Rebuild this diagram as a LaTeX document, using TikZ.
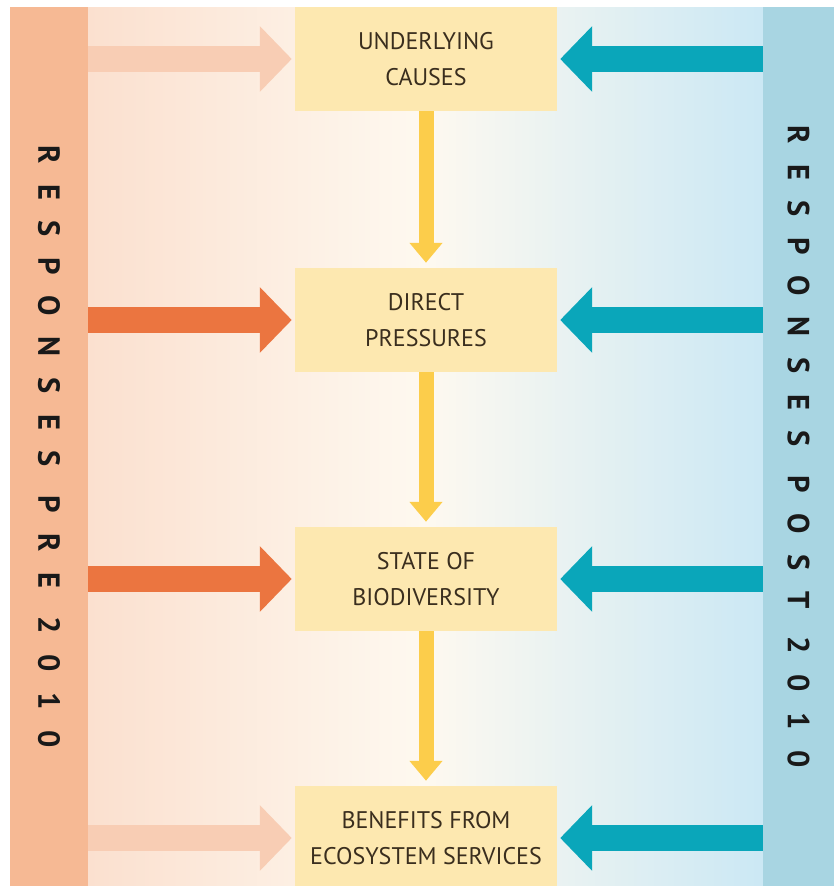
\documentclass[tikz,border=0pt]{standalone}
\usepackage{fontspec}
\setmainfont{PT Sans}
\newfontfamily\barfont[LetterSpace=68]{PT Sans}
\usetikzlibrary{arrows.meta}
\definecolor{prebar}{HTML}{F6B994}
\definecolor{postbar}{HTML}{A8D5E2}
\definecolor{bgleft}{HTML}{FBE0CF}
\definecolor{bgmid}{HTML}{FEF9F0}
\definecolor{bgright}{HTML}{CBE8F4}
\definecolor{boxfill}{HTML}{FDE8B0}
\definecolor{boxtext}{HTML}{3A2E1E}
\definecolor{yellowarrow}{HTML}{FCCD4B}
\definecolor{orangearrow}{HTML}{EB7540}
\definecolor{palearrow}{HTML}{F8CDB4}
\definecolor{tealarrow}{HTML}{0AA6BA}
\begin{document}
\begin{tikzpicture}[x=0.03cm,y=-0.03cm,
    box/.style={fill=boxfill, inner sep=0pt, minimum width=7.86cm, minimum height=3.12cm,
        align=center, text=boxtext, font=\fontsize{20.5}{30.6}\selectfont},
    sidebar/.style={inner sep=0pt, minimum height=26.37cm},
    bartext/.style={rotate=-90, text=black!90, font=\barfont\bfseries\fontsize{26}{30}\selectfont},
    down/.style={draw=yellowarrow, line width=0.45cm, -{Triangle[width=0.96cm,length=0.6cm]}, shorten >=0.15cm},
    push/.style={draw=#1, line width=0.78cm, -{Triangle[width=1.92cm,length=0.96cm]}, shorten >=0.09cm}]
    \useasboundingbox (0,0) rectangle (834,886);
    % background
    \shade[left color=bgleft, right color=bgright, middle color=bgmid] (88,7) rectangle (763,886);
    \node[sidebar, fill=prebar, minimum width=2.34cm] (pre) at (49,446.5) {};
    \node[sidebar, fill=postbar, minimum width=2.13cm] (post) at (798.5,446.5) {};
    \node[bartext] at (pre.center) {RESPONSES PRE 2010};
    \node[bartext] at (post.center) {RESPONSES POST 2010};
    % boxes
    \node[box] (causes) at (426,59) {UNDERLYING\\CAUSES};
    \node[box] (pressures) at (426,320) {DIRECT\\PRESSURES};
    \node[box] (state) at (426,579) {STATE OF\\BIODIVERSITY};
    \node[box] (benefits) at (426,838) {BENEFITS FROM\\ECOSYSTEM SERVICES};
    \draw[down] (causes) -- (pressures);
    \draw[down] (pressures) -- (state);
    \draw[down] (state) -- (benefits);
    % responses
    \draw[push=palearrow] (pre.east |- causes) -- (causes.west);
    \draw[push=orangearrow] (pre.east |- pressures) -- (pressures.west);
    \draw[push=orangearrow] (pre.east |- state) -- (state.west);
    \draw[push=palearrow] (pre.east |- benefits) -- (benefits.west);
    \draw[push=tealarrow] (post.west |- causes) -- (causes.east);
    \draw[push=tealarrow] (post.west |- pressures) -- (pressures.east);
    \draw[push=tealarrow] (post.west |- state) -- (state.east);
    \draw[push=tealarrow] (post.west |- benefits) -- (benefits.east);
\end{tikzpicture}
\end{document}
